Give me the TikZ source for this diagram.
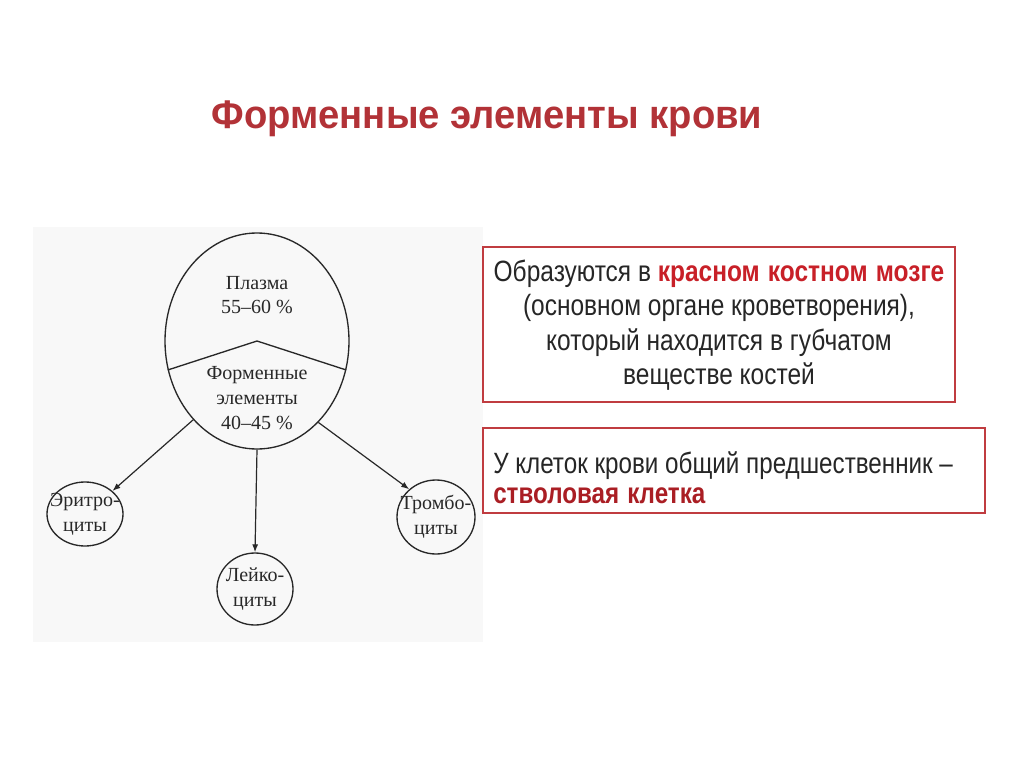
\documentclass[tikz,border=0pt]{standalone}
\usepackage{fontspec}
\setmainfont{Liberation Serif}
\newfontfamily\sansf[FakeStretch=0.955]{Liberation Sans}
\newfontfamily\narrowf[FakeStretch=0.835]{Liberation Sans}
\newfontfamily\narrowg[FakeStretch=0.825]{Liberation Sans}
\usetikzlibrary{shapes.geometric,arrows.meta}
\definecolor{titlered}{RGB}{178,50,55}
\definecolor{boxred}{RGB}{192,60,64}
\definecolor{hired}{RGB}{200,32,40}
\definecolor{stemred}{RGB}{170,30,36}
\definecolor{ink}{RGB}{40,40,40}
\definecolor{scanbg}{RGB}{248,248,248}
\begin{document}
\begin{tikzpicture}[x=0.75pt,y=-0.75pt,
  cell/.style={ellipse, draw=ink, line width=1pt, inner sep=0pt},
  txt/.style={font=\fontsize{15}{18.5}\selectfont, text=ink, align=center, inner sep=0pt},
  arr/.style={draw=ink, line width=0.9pt, -{Latex[length=6pt,width=4.5pt]}},
  redbox/.style={draw=boxred, line width=1.2pt, inner sep=0pt},
  btxt/.style={font=\narrowf\fontsize{22}{25.9}\selectfont, text=black!85, inner sep=0pt},
  ]
\useasboundingbox[fill=white] (0,0) rectangle (1024,767);
\fill[scanbg] (33,227) rectangle (483,642);
\node[font=\sansf\bfseries\fontsize{30}{36}\selectfont, text=titlered, anchor=base] (title) at (487,128) {Форменные элементы крови};

\node[cell, minimum width=138pt, minimum height=162pt] (big) at (257,341) {};
\draw[ink, line width=1pt] (big.198) -- (big.center) -- (big.342);
\node[txt] (plasma) at (257,295) {Плазма\\55–60 \%};
\node[txt] (formed) at (257,398) {Форменные\\элементы\\40–45 \%};

\node[cell, minimum width=57pt, minimum height=48pt] (eri) at (85,514) {};
\node[cell, minimum width=57pt, minimum height=54pt] (leuk) at (255,589) {};
\node[cell, minimum width=58.5pt, minimum height=55.5pt] (trom) at (436,517) {};
\node[txt] (eritxt) at (eri) {Эритро-\\циты};
\node[txt] (leuktxt) at (leuk) {Лейко-\\циты};
\node[txt] (tromtxt) at (trom) {Тромбо-\\циты};

\draw[arr] (big.231) -- (eri.40);
\draw[arr] (big.south) -- (leuk.north);
\draw[arr] (big.307) -- (trom.134);

\node[redbox, minimum width=354pt, minimum height=116.25pt] (box1) at (719,324.5) {};
\node[btxt, align=center] (b1txt) at (719,325) {Образуются в {\color{hired}\bfseries красном\hspace{1pt} костном\hspace{1pt} мозге}\\(основном органе кроветворения),\\который находится в губчатом\\веществе костей};

\node[redbox, minimum width=376.5pt, minimum height=63.75pt] (box2) at (734,470.5) {};
\node[btxt, align=left, anchor=west, font=\narrowg\fontsize{22}{22.5}\selectfont] (b2txt) at (493,478) {У клеток крови общий предшественник –\\{\color{stemred}\bfseries стволовая\hspace{1pt} клетка}};
\end{tikzpicture}
\end{document}
